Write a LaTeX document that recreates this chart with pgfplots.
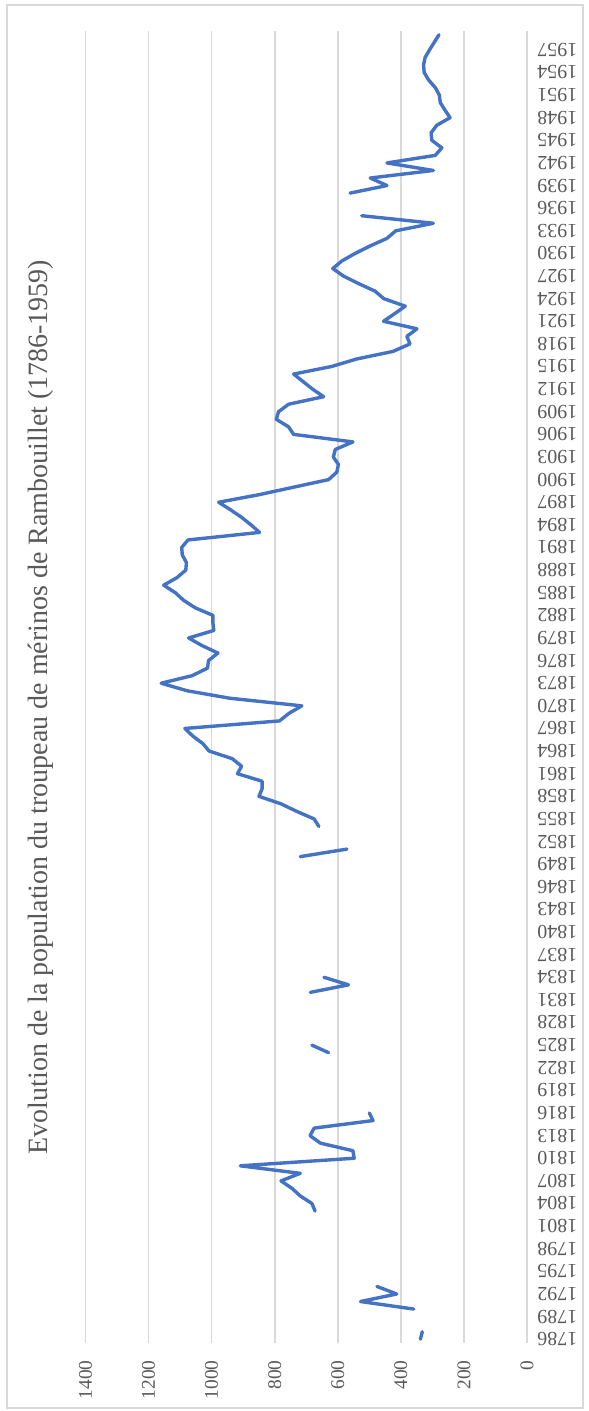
\documentclass[border=0pt]{standalone}
\usepackage{pgfplots}
\usepackage{pgfplotstable}
\pgfplotsset{compat=1.18}
\usepackage{fontspec}
\setmainfont{Liberation Serif}
\definecolor{linecol}{RGB}{68,114,196}
\definecolor{gridcol}{RGB}{217,217,217}
\definecolor{txtcol}{RGB}{89,89,89}
\pgfplotstableread{
year value
1786 338
1787 332
1788 nan
1790 359
1791 528
1792 413
1793 476
1794 nan
1803 672
1804 682
1805 719
1806 745
1807 780
1808 719
1809 909
1810 548
1811 552
1812 655
1813 688
1814 675
1815 488
1816 500
1817 nan
1824 629
1825 682
1826 nan
1832 687
1833 566
1834 644
1835 nan
1850 719
1851 571
1852 nan
1854 660
1855 675
1856 730
1857 780
1858 850
1859 840
1860 840
1861 918
1862 905
1863 935
1864 1008
1865 1028
1866 1060
1867 1085
1868 785
1869 755
1870 714
1871 941
1872 1078
1873 1160
1874 1062
1875 1013
1876 1010
1877 980
1878 1031
1879 1073
1880 993
1881 996
1882 996
1883 1052
1884 1089
1885 1115
1886 1152
1887 1110
1888 1082
1889 1080
1890 1093
1891 1095
1892 1075
1893 848
1894 875
1895 905
1896 940
1897 978
1898 850
1899 740
1900 629
1901 603
1902 598
1903 614
1904 608
1905 552
1906 740
1907 756
1908 795
1909 788
1910 756
1911 645
1912 680
1913 710
1914 740
1915 620
1916 540
1917 425
1918 371
1919 381
1920 349
1921 455
1922 420
1923 386
1924 454
1925 482
1926 534
1927 582
1928 616
1929 587
1930 545
1931 497
1932 444
1933 416
1934 297
1935 524
1936 nan
1938 561
1939 444
1940 497
1941 297
1942 444
1943 291
1944 270
1945 302
1946 304
1947 286
1948 244
1949 260
1950 275
1951 278
1952 291
1953 312
1954 326
1955 328
1956 323
1957 309
1958 294
1959 279
}\merinos
\begin{document}
\begin{tikzpicture}
\useasboundingbox (0,0) rectangle (294pt,705.5pt);
\draw[gridcol, line width=0.8pt] (3.4pt,1.5pt) rectangle (291.5pt,703pt);
\begin{axis}[
  at={(153.125pt,362pt)}, anchor=center,
  width=220.75pt, height=656pt, scale only axis,
  x dir=reverse, xmin=0, xmax=1400,
  ymin=1785.5, ymax=1959.5,
  xtick={0,200,400,600,800,1000,1200,1400},
  ytick={1786,1789,1792,1795,1798,1801,1804,1807,1810,1813,1816,1819,1822,1825,1828,1831,1834,1837,1840,1843,1846,1849,1852,1855,1858,1861,1864,1867,1870,1873,1876,1879,1882,1885,1888,1891,1894,1897,1900,1903,1906,1909,1912,1915,1918,1921,1924,1927,1930,1933,1936,1939,1942,1945,1948,1951,1954,1957},
  xmajorgrids,
  major grid style={draw=gridcol, line width=0.8pt},
  axis line style={draw=none},
  major tick length=0pt,
  xticklabel style={rotate=90, anchor=east, inner sep=0pt, text=txtcol, font=\fontsize{9.7}{10}\selectfont},
  xticklabel shift=8.5pt,
  yticklabel pos=right,
  yticklabel style={rotate=180, anchor=east, inner sep=0pt, text=txtcol, font=\fontsize{10}{10}\selectfont},
  yticklabel shift=5pt,
  unbounded coords=jump,
  /pgf/number format/fixed,
  /pgf/number format/precision=0,
  /pgf/number format/set thousands separator={},
  /pgf/number format/assume math mode=true,
]
\addplot[linecol, line width=1.7pt, line join=round, line cap=round, mark=none] table[x=value, y=year] {\merinos};
\end{axis}
\node[rotate=90, text=txtcol, font=\fontsize{14}{16}\selectfont] at (20.5pt,352pt) {Evolution de la population du troupeau de mérinos de Rambouillet (1786-1959)};
\end{tikzpicture}
\end{document}
